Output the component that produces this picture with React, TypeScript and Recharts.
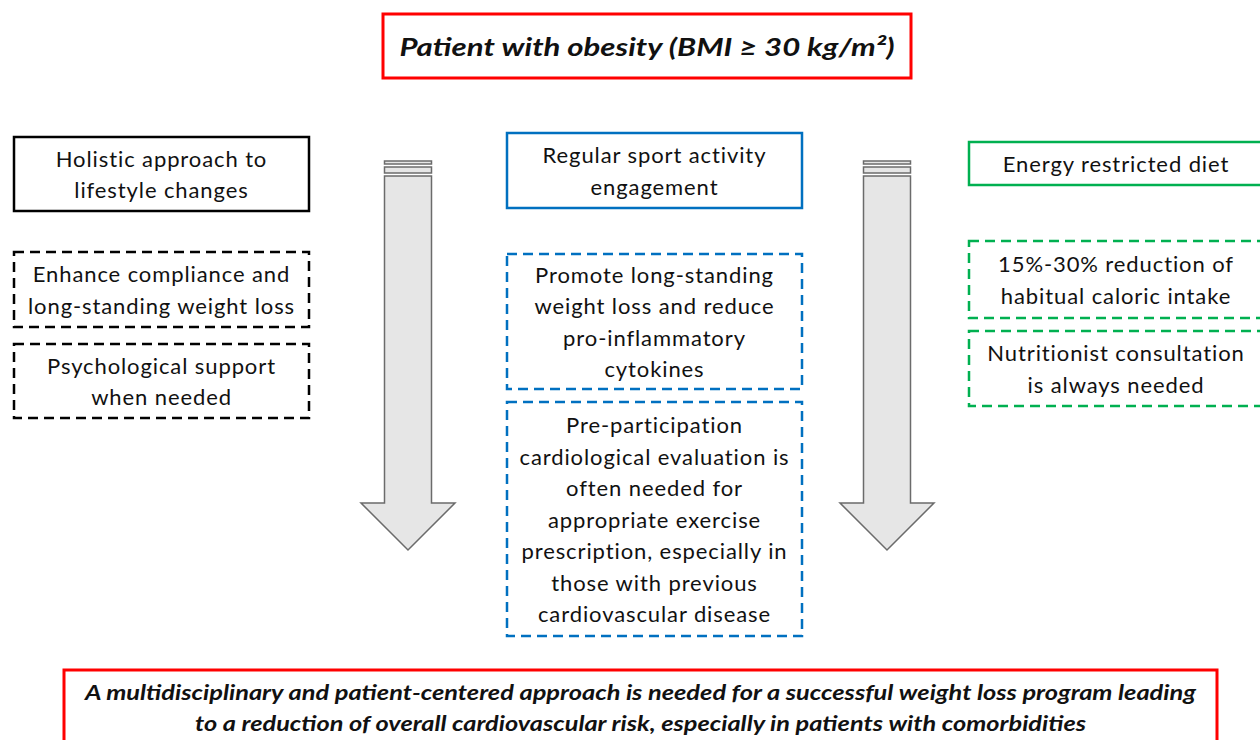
import { ComposedChart, XAxis, YAxis, ReferenceArea } from "recharts";

// Box texts, one array per column
const headerLines = ["Patient with obesity (BMI ≥ 30 kg/m²)"];

const lifestyleBoxes = [
  ["Holistic approach to", "lifestyle changes"],
  ["Enhance compliance and", "long-standing weight loss"],
  ["Psychological support", "when needed"],
];

const sportBoxes = [
  ["Regular sport activity", "engagement"],
  ["Promote long-standing", "weight loss and reduce", "pro-inflammatory", "cytokines"],
  [
    "Pre-participation",
    "cardiological evaluation is",
    "often needed for",
    "appropriate exercise",
    "prescription, especially in",
    "those with previous",
    "cardiovascular disease",
  ],
];

const dietBoxes = [
  ["Energy restricted diet"],
  ["15%-30% reduction of", "habitual caloric intake"],
  ["Nutritionist consultation", "is always needed"],
];

const conclusionLines = [
  "A multidisciplinary and patient-centered  approach is needed for a successful  weight loss program leading",
  "to a reduction of overall cardiovascular risk, especially in patients with comorbidities",
];

// Layout (page coordinates)
const columnX = [
  [14, 309],
  [507, 802],
  [969, 1263],
];
const columnY = [
  [[137, 211], [252, 327], [344, 418]],
  [[133, 208], [254, 389], [402, 636]],
  [[142, 185], [241, 318], [331, 406]],
];
const columnColor = ["#000000", "#0070c0", "#00b050"];
const arrowX = [
  [361, 455],
  [840, 934],
];
const arrowY = [161, 550];

const W = 1260;
const H = 740;
const FONT = "Lato, 'Open Sans', sans-serif";
const LINE = 31.5;

const MultiLine = ({ viewBox, lines, size = 22, spacing = 0.9, italic = false, bold = false, widths }: any) => {
  const { x, y, width, height } = viewBox;
  const cx = x + width / 2;
  const cy = y + height / 2;
  const start = cy - ((lines.length - 1) * LINE) / 2;
  return (
    <g>
      {lines.map((t: string, i: number) => (
        <text
          key={i}
          x={cx}
          y={start + i * LINE}
          textAnchor="middle"
          dominantBaseline="central"
          fontFamily={FONT}
          fontSize={size}
          letterSpacing={widths ? undefined : spacing}
          fontStyle={italic ? "italic" : "normal"}
          fontWeight={bold ? 700 : 400}
          fill="#111"
          textLength={widths ? widths[i] : undefined}
          lengthAdjust={widths ? "spacingAndGlyphs" : undefined}
        >
          {t}
        </text>
      ))}
    </g>
  );
};

const Arrow = (props: any) => {
  const { x, y, width, height } = props;
  const cx = x + width / 2;
  const sw = 47;
  const left = cx - sw / 2;
  const headTop = y + height - 47;
  const bottom = y + height;
  const pts = [
    [left, y + 15],
    [left + sw, y + 15],
    [left + sw, headTop],
    [x + width, headTop],
    [cx, bottom],
    [x, headTop],
    [left, headTop],
  ]
    .map((p) => p.join(","))
    .join(" ");
  return (
    <g>
      <rect x={left} y={y} width={sw} height={3} fill="#e6e6e6" stroke="#6b6b6b" strokeWidth={1.5} />
      <rect x={left} y={y + 6} width={sw} height={6} fill="#e6e6e6" stroke="#6b6b6b" strokeWidth={1.5} />
      <polygon points={pts} fill="#e6e6e6" stroke="#6b6b6b" strokeWidth={1.5} />
    </g>
  );
};

const columns = [lifestyleBoxes, sportBoxes, dietBoxes];

export default function App() {
  return (
    <div style={{ position: "absolute", left: 0, top: 0, background: "#fff" }}>
      <ComposedChart width={W} height={H} margin={{ top: 0, right: 0, bottom: 0, left: 0 }}>
        <XAxis type="number" dataKey="x" domain={[0, W]} hide allowDataOverflow />
        <YAxis type="number" dataKey="y" domain={[0, H]} reversed hide allowDataOverflow />

        {arrowX.map((ax, i) => (
          <ReferenceArea
            key={`arrow-${i}`}
            x1={ax[0]}
            x2={ax[1]}
            y1={arrowY[0]}
            y2={arrowY[1]}
            ifOverflow="visible"
            shape={<Arrow />}
          />
        ))}

        <ReferenceArea
          x1={383}
          x2={911}
          y1={14}
          y2={78}
          fill="#fff"
          fillOpacity={1}
          stroke="#ff0000"
          strokeWidth={3}
          ifOverflow="visible"
          label={(p: any) => (
            <MultiLine viewBox={p.viewBox} lines={headerLines} size={25} italic bold widths={[495]} />
          )}
        />

        {columns.map((boxes, c) =>
          boxes.map((lines, b) => (
            <ReferenceArea
              key={`box-${c}-${b}`}
              x1={columnX[c][0]}
              x2={columnX[c][1]}
              y1={columnY[c][b][0]}
              y2={columnY[c][b][1]}
              fill="#fff"
              fillOpacity={1}
              stroke={columnColor[c]}
              strokeWidth={2.5}
              strokeDasharray={b === 0 ? undefined : "10 6"}
              ifOverflow="visible"
              label={(p: any) => <MultiLine viewBox={p.viewBox} lines={lines} />}
            />
          ))
        )}

        <ReferenceArea
          x1={64}
          x2={1217}
          y1={670}
          y2={752}
          fill="#fff"
          fillOpacity={1}
          stroke="#ff0000"
          strokeWidth={3}
          ifOverflow="visible"
          label={(p: any) => (
            <MultiLine
              viewBox={{ ...p.viewBox, height: 74 }}
              lines={conclusionLines}
              size={21}
              italic
              bold
              widths={[1111, 891]}
            />
          )}
        />
      </ComposedChart>
    </div>
  );
}
